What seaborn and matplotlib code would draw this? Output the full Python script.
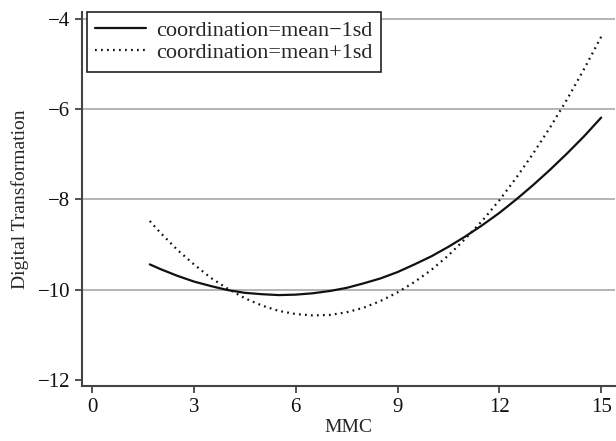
import numpy as np
import pandas as pd
import matplotlib
matplotlib.use('Agg')
import matplotlib.pyplot as plt
import seaborn as sns

# values
mmc = [1.7, 2, 2.5, 3, 3.5, 4, 4.5, 5, 5.5, 6, 6.5, 7, 7.5, 8, 8.5, 9,
       9.5, 10, 10.5, 11, 11.5, 12, 12.5, 13, 13.5, 14, 14.5, 15]
low_sd = [-9.44, -9.54, -9.69, -9.82, -9.92, -10.01, -10.07, -10.10, -10.12, -10.11,
          -10.08, -10.03, -9.96, -9.86, -9.75, -9.61, -9.44, -9.26, -9.05, -8.82,
          -8.57, -8.30, -8.00, -7.68, -7.34, -6.98, -6.60, -6.19]
high_sd = [-8.48, -8.73, -9.11, -9.44, -9.74, -9.98, -10.19, -10.35, -10.47, -10.54,
           -10.57, -10.56, -10.50, -10.40, -10.25, -10.06, -9.83, -9.56, -9.24, -8.87,
           -8.47, -8.02, -7.52, -6.98, -6.40, -5.78, -5.11, -4.40]
labels = ['coordination=mean\u22121sd', 'coordination=mean+1sd']
xticks = [0, 3, 6, 9, 12, 15]
yticks = [-12, -10, -8, -6, -4]

df = pd.DataFrame({
    'MMC': mmc * 2,
    'DT': low_sd + high_sd,
    'group': [labels[0]] * len(mmc) + [labels[1]] * len(mmc),
})

sns.set_style('ticks')
plt.rcParams['font.family'] = ['Liberation Serif', 'DejaVu Serif']
plt.rcParams['axes.unicode_minus'] = True

fig = plt.figure(figsize=(6.16, 4.41), dpi=100)
ax = fig.add_axes([0.133, 0.125, 0.865, 0.848])

# horizontal gridlines (none on the bottom tick)
for y in yticks[1:]:
    ax.axhline(y, color='#a8a8a8', lw=1.2, zorder=0)

sns.lineplot(data=df, x='MMC', y='DT', hue='group', style='group',
             palette={labels[0]: '#111111', labels[1]: '#111111'},
             dashes={labels[0]: '', labels[1]: (0.8, 1.9)},
             linewidth=1.6, ax=ax)

ax.set_xlim(-0.3, 15.4)
ax.set_ylim(-12.13, -3.85)
ax.set_xticks(xticks)
ax.set_yticks(yticks)
ax.set_xticklabels([str(t) for t in xticks])
ax.set_yticklabels([f'\u2212{abs(t)}' for t in yticks])
ax.tick_params(axis='both', labelsize=15, length=5, width=1.2, color='#333333',
               labelcolor='#111111', direction='out')
for s in ['top', 'right']:
    ax.spines[s].set_visible(False)
for s in ['left', 'bottom']:
    ax.spines[s].set_color('#444444')
    ax.spines[s].set_linewidth(1.5)

ax.set_xlabel('MMC', fontsize=14, labelpad=2)
ax.set_ylabel('Digital Transformation', fontsize=14, labelpad=6)

leg = ax.legend(loc='upper left', bbox_to_anchor=(0.009, 1.0), fontsize=16,
                frameon=True, fancybox=False, edgecolor='#222222',
                handlelength=2.3, borderpad=0.38, labelspacing=0.08,
                handletextpad=0.45, borderaxespad=0.0)
leg.get_frame().set_linewidth(1.2)
leg.get_frame().set_alpha(1)

fig.savefig('out.png', dpi=100)
